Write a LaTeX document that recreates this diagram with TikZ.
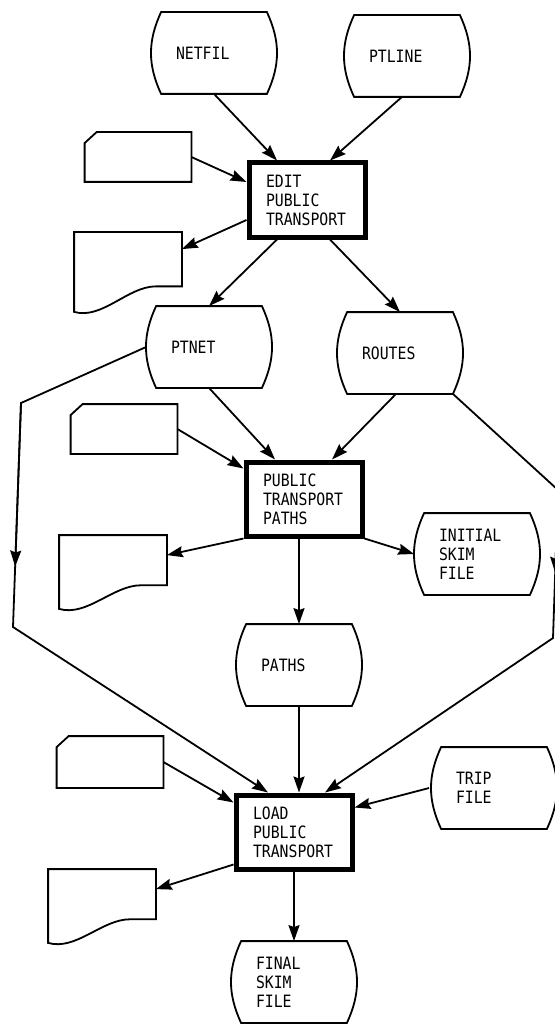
\documentclass[tikz,border=0pt]{standalone}
\usepackage{fontspec}
\usetikzlibrary{arrows.meta,calc}
\newfontfamily\printfont[FakeStretch=0.87]{DejaVu Sans Mono}
\newcommand\listfont{\printfont\fontsize{17pt}{19pt}\selectfont}

\begin{document}
\begin{tikzpicture}[x=1pt, y=-1pt, line width=1.8pt,
  >={Stealth[length=16pt,width=11pt,inset=2pt]},
  store/.style={minimum width=104pt, minimum height=80pt, text width=76pt, align=left, inner sep=0pt, font=\listfont},
  prog/.style={draw, line width=5pt, minimum width=116pt, minimum height=74pt, text width=82pt, align=left, inner sep=0pt, font=\listfont},
  card/.style={minimum width=105pt, minimum height=48pt},
  sheet/.style={minimum width=106pt, minimum height=72pt}]
  \fill[white] (0,0) rectangle (554,1024);
  \useasboundingbox (0,0) rectangle (554,1024);

  \node[store] (netfil) at (214,53) {NETFIL};
  \node[store] (ptline) at (407,56) {PTLINE};
  \node[card] (card1) at (138,157) {};
  \node[prog] (edit) at (307,200) {EDIT\\PUBLIC\\TRANSPORT};
  \node[sheet, minimum height=78pt] (doc1) at (128,272) {};
  \node[store] (ptnet) at (209,347) {PTNET};
  \node[store] (routes) at (400,353) {ROUTES};
  \node[card] (card2) at (124,429) {};
  \node[prog] (ptp) at (304,499) {PUBLIC\\TRANSPORT\\PATHS};
  \node[store] (initial) at (477,554) {INITIAL\\SKIM\\FILE};
  \node[sheet] (doc2) at (113,572) {};
  \node[store] (paths) at (299,665) {PATHS};
  \node[card, minimum height=50pt] (card3) at (110,762) {};
  \node[prog] (load) at (294,832) {LOAD\\PUBLIC\\TRANSPORT};
  \node[store] (trip) at (494,788) {TRIP\\FILE};
  \node[sheet] (doc3) at (102,906) {};
  \node[store] (final) at (294,982) {FINAL\\SKIM\\FILE};

  \foreach \n in {netfil,ptline,ptnet,routes,initial,paths,trip,final}
    \draw (\n.north west) to[bend right=25] (\n.south west) -- (\n.south east)
      to[bend right=25] (\n.north east) -- cycle;
  \foreach \n in {card1,card2,card3}
    \draw ([xshift=12pt]\n.north west) -- (\n.north east) -- (\n.south east)
      -- (\n.south west) -- ([yshift=-11pt]\n.north west) -- cycle;
  \foreach \n in {doc1,doc2,doc3}
    \draw (\n.north west) -- (\n.north east) -- ($(\n.north east)!.68!(\n.south east)$)
      -- ++(-26,0) .. controls +(-28,0) and +(28,8) .. (\n.south west) -- cycle;

  \coordinate (ltop) at (21,403);
  \coordinate (lbot) at (13,627);
  \coordinate (rtop) at (558,490);
  \coordinate (rbot) at (553,638);

  \draw[->] (netfil.south) -- ([xshift=-30pt]edit.north);
  \draw[->] ([xshift=-5pt]ptline.south) -- ([xshift=23pt]edit.north);
  \draw[->] (card1.east) -- ([yshift=18pt]edit.west);
  \draw[->] ([yshift=-20pt]edit.west) -- ([yshift=-17pt]doc1.north east);
  \draw[->] ([xshift=-30pt]edit.south) -- (ptnet.north);
  \draw[->] ([xshift=23pt]edit.south) -- (routes.north);
  \draw[->] (ptnet.south) -- ([xshift=-29pt]ptp.north);
  \draw[->] ([xshift=-4pt]routes.south) -- ([xshift=28pt]ptp.north);
  \draw[->] (card2.east) -- ([yshift=-9pt]ptp.north west);
  \draw[->] (ptp.south west) -- ([yshift=-20pt]doc2.north east);
  \draw[->] (ptp.south east) -- ([xshift=-10pt]initial.west);
  \draw[->] (paths.north |- ptp.south) -- (paths.north);
  \draw[->] ([xshift=-10pt]ptnet.west) -- (ltop) -- (lbot) -- ([xshift=-26pt]load.north);
  \draw[->] (ltop) -- ($(ltop)!.73!(lbot)$);
  \draw[->] (routes.south east) -- (rtop) -- (rbot) -- ([xshift=31pt]load.north);
  \draw[->] (rtop) -- ($(rtop)!.56!(rbot)$);
  \draw[->] (paths.south) -- (paths.south |- load.north);
  \draw[->] (card3.east) -- ([yshift=-10pt]load.north west);
  \draw[->] ([xshift=-12pt]trip.west) -- ([yshift=-15pt]load.north east);
  \draw[->] ([yshift=7pt]load.south west) -- ([yshift=-20pt]doc3.north east);
  \draw[->] (load.south) -- (final.north);
\end{tikzpicture}
\end{document}
